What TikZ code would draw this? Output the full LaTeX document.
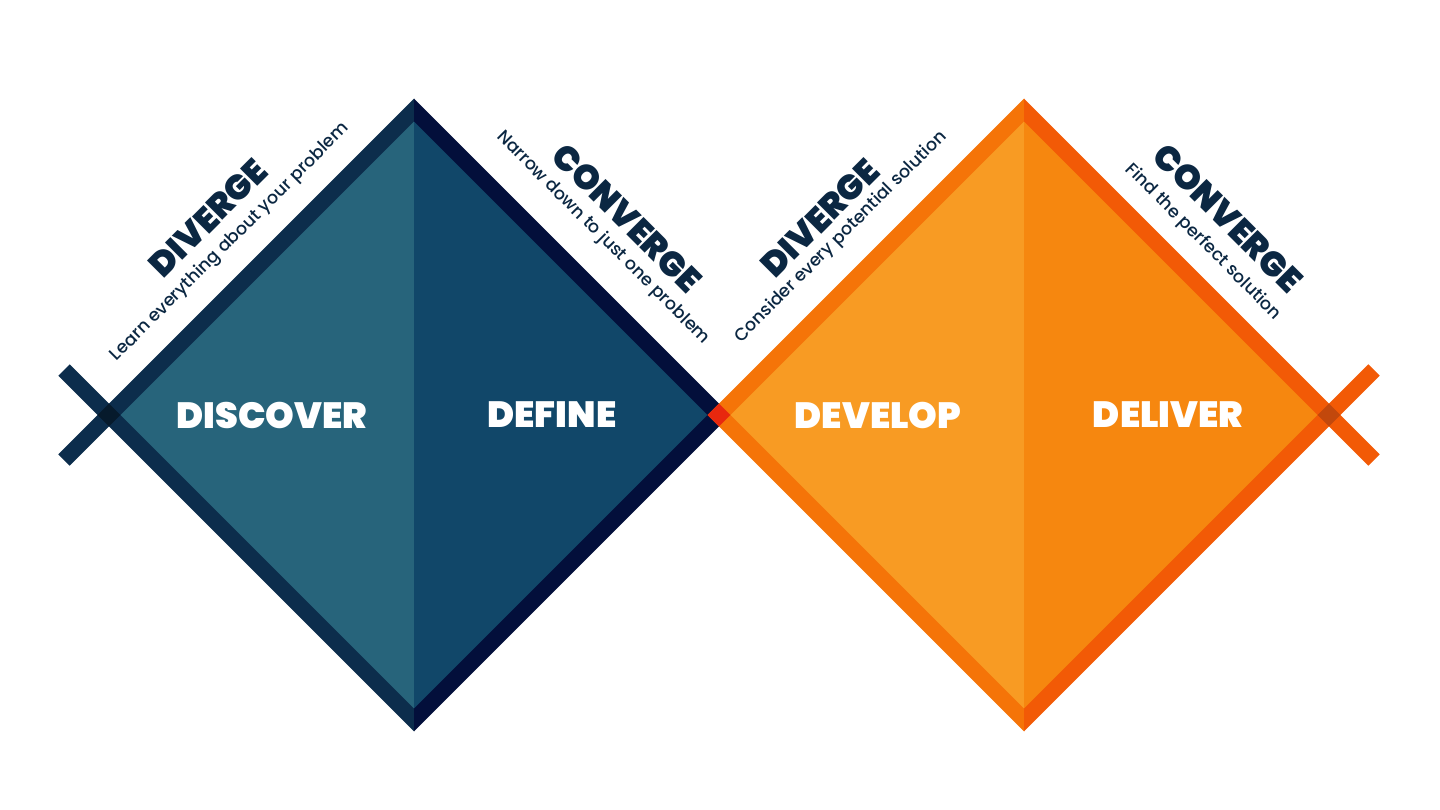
\documentclass[tikz,border=0pt]{standalone}
\usepackage{fontspec}
\setmainfont{Poppins}
\IfFontExistsTF{Poppins Black}{\newfontfamily\heavy{Poppins Black}}{%
  \IfFontExistsTF{Poppins ExtraBold}{\newfontfamily\heavy{Poppins ExtraBold}}{\newcommand\heavy{\bfseries}}}
\IfFontExistsTF{Poppins Medium}{\newfontfamily\medium{Poppins Medium}}{\newcommand\medium{\mdseries}}
\definecolor{discoverfill}{HTML}{27647B}
\definecolor{definefill}{HTML}{114769}
\definecolor{developfill}{HTML}{F89B23}
\definecolor{deliverfill}{HTML}{F6870F}
\definecolor{navyband}{HTML}{0C2D4C}
\definecolor{deepband}{HTML}{030F3B}
\definecolor{orangeband}{HTML}{F57408}
\definecolor{redband}{HTML}{F25A06}
\definecolor{crossnavy}{HTML}{061A2C}
\definecolor{crossorange}{HTML}{C2480C}
\definecolor{junction}{HTML}{E8280E}
\definecolor{inkblue}{HTML}{0B2742}

\begin{document}
\begin{tikzpicture}[x=1pt,y=-1pt,
  phase/.style={text=white,font=\heavy\fontsize{36.5}{36.5}\selectfont},
  headline/.style={text=inkblue,inner sep=0pt,font=\heavy\fontsize{34.5}{34.5}\selectfont},
  tagline/.style={text=inkblue,inner sep=0pt,font=\medium\fontsize{17.5}{17.5}\selectfont},
  band/.style={line width=16pt}]
	\useasboundingbox (0,0) rectangle (1440,810);

	\coordinate (T1) at (414,110);
	\coordinate (R1) at (719,415);
	\coordinate (B1) at (414,720);
	\coordinate (L1) at (109,415);
	\coordinate (T2) at (1024,110);
	\coordinate (R2) at (1329,415);
	\coordinate (B2) at (1024,720);
	\coordinate (L2) at (719,415);

	\fill[discoverfill] (L1) -- (T1) -- (B1) -- cycle;
	\fill[definefill] (T1) -- (R1) -- (B1) -- cycle;
	\fill[developfill] (L2) -- (T2) -- (B2) -- cycle;
	\fill[deliverfill] (T2) -- (R2) -- (B2) -- cycle;

	\begin{scope}
	\clip (0,0) rectangle (414,810);
	\draw[band,navyband] (64,460) -- (434,90);
	\draw[band,navyband] (64,370) -- (434,740);
	\end{scope}
	\begin{scope}
	\clip (414,0) rectangle (1024,810);
	\draw[band,deepband,line join=miter] (394,90) -- (R1) -- (394,740);
	\end{scope}
	\begin{scope}
	\clip (414,0) rectangle (1024,810);
	\draw[band,orangeband,line join=miter] (1044,90) -- (L2) -- (1044,740);
	\end{scope}
	\begin{scope}
	\clip (1024,0) rectangle (1440,810);
	\draw[band,redband] (1004,90) -- (1374,460);
	\draw[band,redband] (1004,740) -- (1374,370);
	\end{scope}

	\fill[crossnavy] (L1) ++(-11.3,0) -- ++(11.3,-11.3) -- ++(11.3,11.3) -- ++(-11.3,11.3) -- cycle;
	\fill[junction] (L2) ++(-11.3,0) -- ++(11.3,-11.3) -- ++(11.3,11.3) -- ++(-11.3,11.3) -- cycle;
	\fill[crossorange] (R2) ++(-11.3,0) -- ++(11.3,-11.3) -- ++(11.3,11.3) -- ++(-11.3,11.3) -- cycle;

	\node[phase] (discover) at (272,415) {DISCOVER};
	\node[phase] (define) at (552,415) {DEFINE};
	\node[phase] (develop) at (878,415) {DEVELOP};
	\node[phase] (deliver) at (1168,415) {DELIVER};

	\node[headline,rotate=45] (diverge1) at (208,218) {DIVERGE};
	\node[tagline,rotate=45] (learn) at (230,242) {Learn everything about your problem};
	\node[headline,rotate=-45] (converge1) at (627,218) {CONVERGE};
	\node[tagline,rotate=-45] (narrow) at (603,238) {Narrow down to just one problem};
	\node[headline,rotate=45] (diverge2) at (820,218) {DIVERGE};
	\node[tagline,rotate=45] (consider) at (841,237) {Consider every potential solution};
	\node[headline,rotate=-45] (converge2) at (1228,218) {CONVERGE};
	\node[tagline,rotate=-45] (find) at (1203,242) {Find the perfect solution};
\end{tikzpicture}
\end{document}
